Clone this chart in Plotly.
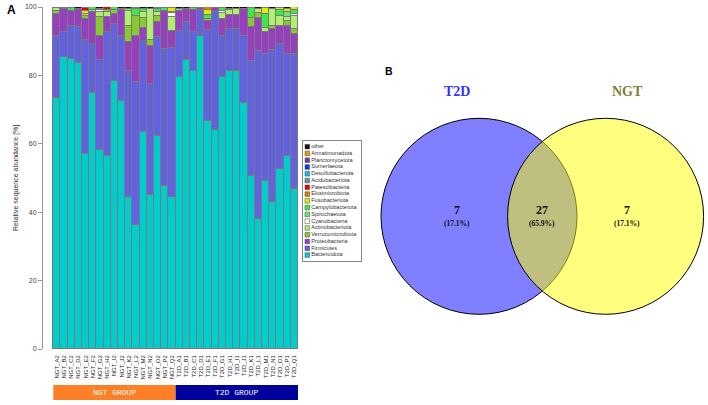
import plotly.graph_objects as go

W, H = 708, 405

samples = ["NGT_A2","NGT_B2","NGT_C2","NGT_D2","NGT_E2","NGT_F2","NGT_G2","NGT_H2","NGT_I2",
           "NGT_J2","NGT_K2","NGT_L2","NGT_M2","NGT_N2","NGT_O2","NGT_P2","NGT_Q2",
           "T2D_A1","T2D_B1","T2D_C1","T2D_D1","T2D_E1","T2D_F1","T2D_G1","T2D_H1","T2D_I1",
           "T2D_J1","T2D_K1","T2D_L1","T2D_M1","T2D_N1","T2D_O1","T2D_P1","T2D_Q1"]

Bacteroidota = [73.5,85.5,84.7,83.6,57.0,75.0,58.2,56.3,78.5,72.5,44.5,36.2,63.4,45.0,62.4,47.6,44.5,
                79.5,84.5,81.3,91.4,66.8,63.9,79.5,81.3,81.3,72.0,50.5,38.0,49.1,43.0,52.6,56.5,46.9]
Firmicutes = [18.1,7.1,9.8,10.6,33.3,14.2,26.3,36.5,16.5,19.1,36.9,41.9,26.7,32.6,28.7,40.1,43.5,
              13.5,11.0,11.3,7.6,26.4,34.5,12.1,12.2,12.2,19.6,33.6,49.2,37.2,44.4,36.6,29.8,39.4]
Proteobacteria = [6.5,6.7,4.3,5.1,6.1,9.2,7.1,4.3,3.1,7.4,8.3,13.5,3.9,11.1,4.4,11.1,5.0,
                  5.8,3.8,6.4,0.6,2.7,1.4,4.8,4.2,4.2,7.7,10.1,9.7,6.3,6.1,5.3,8.2,5.8]
Verrucomicrobiota = [0.7,0,0,0,1.0,0,5.5,0,1.0,0.5,4.8,5.8,2.7,1.6,1.9,0,0,
                     0,0,0,0,0.5,0,0,0,0,0,2.7,1.4,0,1.0,0,1.4,1.4]
Actinobacteriota = [0.8,0,0,0,0.7,0,1.5,1.3,0,0,4.3,0,1.7,9.0,1.0,0,4.2,
                    0,0,0,0,0,0,1.9,1.4,1.6,0,0,1.0,1.4,4.8,2.9,1.2,3.9]
Cyanobacteria = [0,0,0,0,0,0,0.4,0,0,0,0,0,0,0,0,0,1.0,
                 0,0,0,0,0,0,0.5,0.4,0,0,0,0,0,0,0,0,0.7]
Spirochaetota = [0,0,0,0,0,0.7,0.5,0,0,0,0.6,0,0,0,0,0,0.4,
                 0.6,0,0,0,0,0,0,0,0,0,0,0,0,0,0,1.5,0]
Campylobacterota = [0,0.4,1.0,0,0,0.8,0,0.8,0.8,0,0,1.9,1.0,0,1.0,0.8,0,
                    0,0,0.8,0,1.4,0,1.0,0,0,0,2.7,0,3.9,0,1.6,0,1.0]
Fusobacteriota = [0,0,0,0.2,0.6,0,0,0,0,0,0,0.5,0,0,0,0,1.0,
                  0,0,0,0,1.4,0,0,0,0,0,0,0,1.9,0,0.8,0.8,0.8]
Elusimicrobiota = [0,0,0,0,0,0,0,0,0,0,0,0,0,0,0,0,0,
                   0,0,0,0,0.7,0,0,0,0,0,0,0,0,0,0,0,0]
Patescibacteria = [0,0,0,0,1.1,0,0,0.7,0,0,0,0,0,0,0,0,0,
                   0,0,0,0,0,0,0,0,0,0,0,0,0,0,0,0,0]
Acidobacteriota = [0,0,0,0,0,0,0,0,0,0,0,0,0,0,0,0,0,
                   0,0,0,0,0,0,0,0,0,0,0,0,0,0,0,0,0]
Desulfobacterota = [0,0,0,0,0,0,0,0,0,0,0,0,0,0,0,0,0,
                    0,0,0,0,0,0,0,0,0,0,0,0,0,0,0,0,0]
Sumerlaeota = [0,0,0,0,0,0,0,0,0,0,0,0,0,0,0,0,0,
               0,0,0,0,0,0,0,0,0,0,0,0,0,0,0,0,0]
Planctomycetota = [0,0,0,0,0,0,0,0,0,0,0,0,0,0,0,0,0,
                   0,0,0,0,0,0,0,0,0,0,0,0,0,0,0,0,0]
Armatimonadota = [0,0,0,0,0,0,0,0,0,0,0,0,0,0,0.4,0,0,
                  0,0,0,0,0,0,0,0,0,0,0,0,0,0,0,0,0]
other = [0.4,0.3,0.2,0.5,0.2,0.1,0.5,0.1,0.1,0.5,0.6,0.2,0.6,0.7,0.2,0.4,0.4,
         0.6,0.7,0.2,0.4,0.1,0.2,0.2,0.5,0.7,0.7,0.4,0.7,0.2,0.7,0.2,0.6,0.1]

# stacking order bottom -> top
phyla = [
    ("Bacteroidota", Bacteroidota, "#00CCCC"),
    ("Firmicutes", Firmicutes, "#6262E0"),
    ("Proteobacteria", Proteobacteria, "#9640C0"),
    ("Verrucomicrobiota", Verrucomicrobiota, "#88C832"),
    ("Actinobacteriota", Actinobacteriota, "#B2EE72"),
    ("Cyanobacteria", Cyanobacteria, "#FFFFFF"),
    ("Spirochaetota", Spirochaetota, "#70E070"),
    ("Campylobacterota", Campylobacterota, "#3CE84A"),
    ("Fusobacteriota", Fusobacteriota, "#DDEE00"),
    ("Elusimicrobiota", Elusimicrobiota, "#E08000"),
    ("Patescibacteria", Patescibacteria, "#EE0000"),
    ("Acidobacteriota", Acidobacteriota, "#5F9EA0"),
    ("Desulfobacterota", Desulfobacterota, "#1EB4E6"),
    ("Sumerlaeota", Sumerlaeota, "#0040F0"),
    ("Planctomycetota", Planctomycetota, "#6A3CA0"),
    ("Armatimonadota", Armatimonadota, "#E0A000"),
    ("other", other, "#111111"),
]

groups = [("NGT GROUP", 17, "#FF7F27"), ("T2D GROUP", 17, "#00009C")]

venn_labels = ["T2D", "NGT"]
venn_counts = [7, 27, 7]  # T2D only, both, NGT only

# layout geometry (pixels)
XL, XR = 43, 300
X0, X1 = -1.93, 33.78
def xp(v):  # category coordinate -> paper
    return (XL + (v - X0) * (XR - XL) / (X1 - X0)) / W
def px(x):
    return x / W
def py(y):
    return 1 - y / H

fig = go.Figure()
for name, vals, col in phyla:
    fig.add_trace(go.Bar(
        x=samples, y=[v if v else None for v in vals], name=name,
        marker=dict(color=col, line=dict(color="#7A7A7A", width=1)),
        showlegend=False, xaxis="x", yaxis="y"))

# legend drawn as scatter on its own small axes
leg_order = [p for p in reversed(phyla)]
fig.add_trace(go.Scatter(
    x=[4.3] * len(leg_order), y=[p[0] for p in leg_order],
    mode="markers+text", text=[p[0] for p in leg_order], textposition="middle right",
    textfont=dict(size=5.6, color="#333333", family="Liberation Sans"),
    marker=dict(symbol="square", size=4.6, color=[p[2] for p in leg_order],
                line=dict(color="#444444", width=0.5)),
    showlegend=False, xaxis="x2", yaxis="y2", hoverinfo="skip", cliponaxis=False))

fig.update_layout(
    width=W, height=H, margin=dict(l=0, r=0, t=0, b=0, autoexpand=False),
    paper_bgcolor="white", plot_bgcolor="white",
    barmode="stack", bargap=0,
    font=dict(family="Liberation Sans", color="#333333"),
    xaxis=dict(domain=[px(XL), px(XR)], range=[X0, X1], type="category", automargin=False,
               tickangle=-90, tickfont=dict(size=6, color="#222222"),
               showline=False, showgrid=False, zeroline=False, ticks="",
               ticklabelstandoff=4),
    yaxis=dict(domain=[py(349), py(7)], range=[0, 100], tickvals=[0, 20, 40, 60, 80, 100],
               automargin=False,
               ticks="outside", ticklen=4, tickcolor="#999999", showline=True,
               linecolor="#999999", linewidth=1, showgrid=False, zeroline=False,
               tickfont=dict(size=7, color="#444444")),
    xaxis2=dict(domain=[px(303), px(361)], range=[0, 58], showline=True, mirror=True,
                automargin=False,
                linecolor="#888888", linewidth=1, showticklabels=False, ticks="",
                showgrid=False, zeroline=False, anchor="y2", fixedrange=True),
    yaxis2=dict(domain=[py(261), py(141)], type="category", automargin=False,
                categoryarray=[p[0] for p in leg_order], range=[16.88, -0.84],
                showline=True, mirror=True, linecolor="#888888", linewidth=1,
                showticklabels=False, ticks="", showgrid=False, zeroline=False,
                anchor="x2", fixedrange=True),
)

shapes = []
annotations = []

def note(x, y, text, size, color="#111111", family="Liberation Sans", angle=0):
    annotations.append(dict(x=px(x), y=py(y), xref="paper", yref="paper", text=text,
                            showarrow=False, xanchor="center", yanchor="middle",
                            textangle=angle, font=dict(size=size, color=color, family=family)))

# group bands
start = 0
for label, n, col in groups:
    x0, x1 = xp(start - 0.5), xp(start + n - 0.5)
    shapes.append(dict(type="rect", xref="paper", yref="paper", x0=x0, x1=x1,
                       y0=py(400), y1=py(385), fillcolor=col, line=dict(width=0)))
    note((x0 + x1) / 2 * W, 392.5, label, 8, "white", "Liberation Mono")
    start += n

# y axis title
note(16, 178, "Relative sequence abundance [%]", 7, "#333333", angle=-90)
# panel letters
note(11, 9.5, "<b>A</b>", 12, "black")
note(389, 71.5, "<b>B</b>", 10.5, "black")

# Venn diagram
r = 98
cL, cR, cy = 479, 605.6, 216.3
shapes.append(dict(type="circle", xref="paper", yref="paper",
                   x0=px(cL - r), x1=px(cL + r), y0=py(cy + r), y1=py(cy - r),
                   fillcolor="rgba(0,0,255,0.5)", line=dict(color="black", width=1)))
shapes.append(dict(type="circle", xref="paper", yref="paper",
                   x0=px(cR - r), x1=px(cR + r), y0=py(cy + r), y1=py(cy - r),
                   fillcolor="rgba(255,255,0,0.5)", line=dict(color="black", width=1)))

total = sum(venn_counts)
venn_x = [457, 542.3, 627.3]
for cx, cnt in zip(venn_x, venn_counts):
    note(cx, 209.8, "<b>%d</b>" % cnt, 12, "#111111", "Liberation Serif")
    note(cx, 223.2, "<b>(%.1f%%)</b>" % (100 * cnt / total), 7.5, "#111111", "Liberation Serif")
note(457, 91.7, "<b>%s</b>" % venn_labels[0], 14, "#3333FF", "Liberation Serif")
note(627.3, 91.7, "<b>%s</b>" % venn_labels[1], 14, "#7F7F33", "Liberation Serif")

fig.update_layout(shapes=shapes, annotations=annotations)
fig.write_html("out.html", config={"displayModeBar": False},
               post_script="document.body.style.margin='0px';")
